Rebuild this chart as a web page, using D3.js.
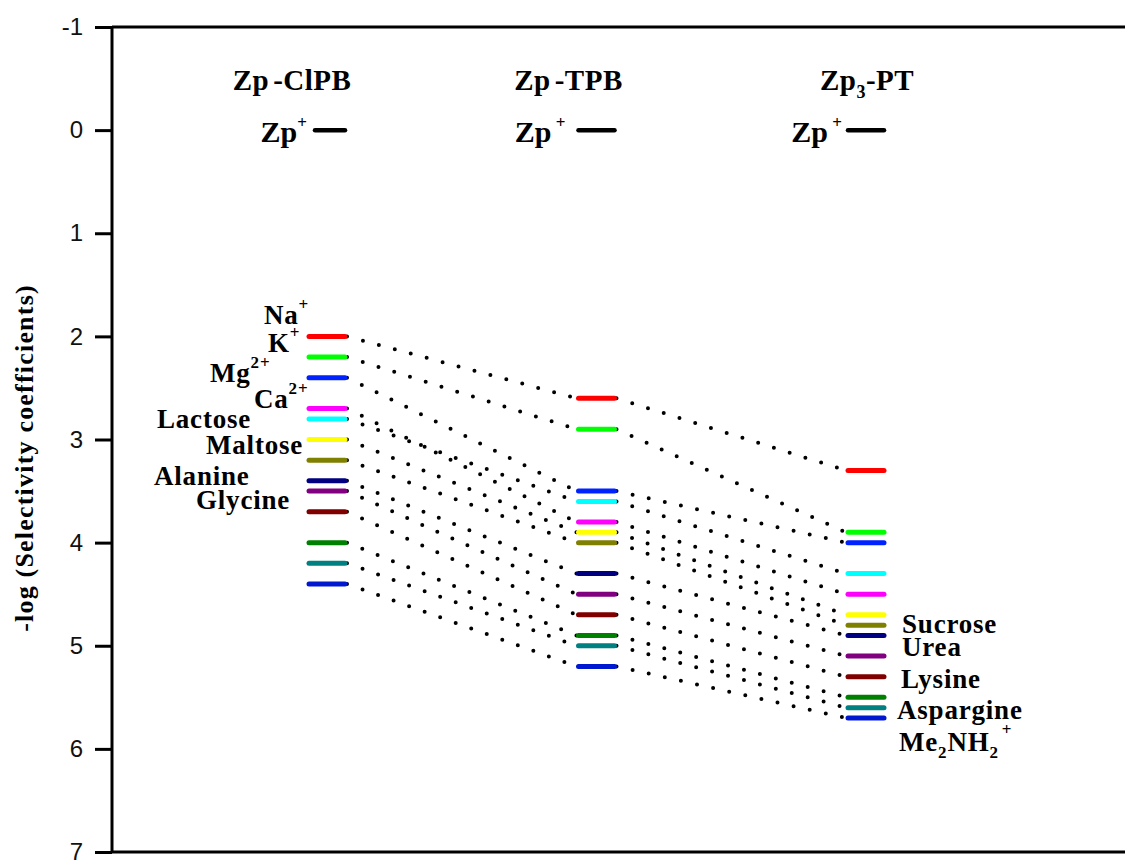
<!DOCTYPE html>
<html><head><meta charset="utf-8">
<script src="https://cdn.jsdelivr.net/npm/d3@7"></script>
<style>
html,body{margin:0;padding:0;background:#fff;}
svg{display:block;}
.serif{font-family:"Liberation Serif","Times New Roman",serif;font-weight:bold;fill:#000;}
</style></head>
<body>
<script>
// ---------------- data ----------------
const columns = ["Zp-ClPB", "Zp-TPB", "Zp3-PT"];
const species = ["Na+","K+","Mg2+","Ca2+","Lactose","Maltose","Sucrose","Alanine","Glycine","Urea","Lysine","Aspargine","Me2NH2+"];
const colors  = ["#ff0000","#00ff00","#0022ff","#ff00ff","#00ffff","#ffff00","#808000","#000080","#800080","#800000","#008000","#008080","#0018d0"];
const valuesClPB = [2.0, 2.2, 2.4, 2.7, 2.8, 3.0, 3.2, 3.4, 3.5, 3.7, 4.0, 4.2, 4.4];
const valuesTPB  = [2.6, 2.9, 3.5, 3.8, 3.6, 3.9, 4.0, 4.3, 4.5, 4.7, 4.9, 5.0, 5.2];
const valuesPT   = [3.3, 3.9, 4.0, 4.5, 4.3, 4.7, 4.8, 4.9, 5.1, 5.3, 5.5, 5.6, 5.7];
const zpValue = 0;
const yTicks = [-1, 0, 1, 2, 3, 4, 5, 6, 7];
const yLabel = "-log (Selectivity coefficients)";

// ---------------- layout ----------------
const W = 1125, H = 860;
const svg = d3.select("body").append("svg").attr("width", W).attr("height", H);
const y = d3.scaleLinear().domain([-1, 7]).range([27, 852]);
const x = d3.scalePoint().domain(columns).range([327, 866]);
const barHalf = 20;
const axisX = 112;

// axis
const axis = d3.axisLeft(y).tickValues(yTicks).tickSize(17).tickPadding(12).tickFormat(d => String(d));
const gA = svg.append("g").attr("transform", `translate(${axisX},0)`).call(axis);
gA.select(".domain").attr("stroke", "#000").attr("stroke-width", 3).attr("d", `M0,${y(-1)}V${y(7)}`);
gA.selectAll(".tick line").attr("stroke", "#000").attr("stroke-width", 3);
gA.selectAll(".tick text").attr("font-family", "Liberation Sans, Arial, sans-serif").attr("font-size", 24).attr("fill", "#111");
// frame top / bottom
svg.append("line").attr("x1", axisX).attr("x2", W + 5).attr("y1", y(-1)).attr("y2", y(-1)).attr("stroke", "#000").attr("stroke-width", 3);
svg.append("line").attr("x1", axisX).attr("x2", W + 5).attr("y1", y(7)).attr("y2", y(7)).attr("stroke", "#000").attr("stroke-width", 3);

// y label
svg.append("text").attr("class", "serif").attr("font-size", 26).attr("letter-spacing", 1.2)
  .attr("transform", `translate(33,${458}) rotate(-90)`).attr("text-anchor", "middle").text(yLabel);

// dotted connectors
const series = [valuesClPB, valuesTPB, valuesPT];
const gDots = svg.append("g");
species.forEach((s, i) => {
  for (let c = 0; c < 2; c++) {
    gDots.append("line")
      .attr("x1", x(columns[c]) + barHalf).attr("y1", y(series[c][i]))
      .attr("x2", x(columns[c + 1]) - barHalf).attr("y2", y(series[c + 1][i]))
      .attr("stroke", "#000").attr("stroke-width", 4)
      .attr("stroke-linecap", "round").attr("stroke-dasharray", "0 16.5");
  }
});

// bars
columns.forEach((col, c) => {
  svg.append("g").selectAll("line").data(series[c]).join("line")
    .attr("x1", x(col) - barHalf + 2).attr("x2", x(col) + barHalf - 2)
    .attr("y1", d => y(d)).attr("y2", d => y(d))
    .attr("stroke", (d, i) => colors[i]).attr("stroke-width", 5).attr("stroke-linecap", "round");
  // Zp+ reference bar
  svg.append("line")
    .attr("x1", x(col) - barHalf + (c === 0 ? 8 : 2)).attr("x2", x(col) + barHalf - 2)
    .attr("y1", y(zpValue)).attr("y2", y(zpValue))
    .attr("stroke", "#000").attr("stroke-width", 4.5).attr("stroke-linecap", "round");
});

// column titles
const titleOffsets = [-35, -28, 1];
columns.forEach((col, c) => {
  const t = svg.append("text").attr("class", "serif").attr("font-size", 29).attr("letter-spacing", 0.5)
    .attr("x", x(col) + titleOffsets[c]).attr("y", 90).attr("text-anchor", "middle");
  if (c === 2) {
    t.append("tspan").text("Zp");
    t.append("tspan").attr("font-size", 18).attr("dy", 8).text("3");
    t.append("tspan").attr("dy", -8).text("-PT");
  } else {
    const parts = col.split("-");
    t.append("tspan").text(parts[0]);
    t.append("tspan").attr("dx", 4).text("-" + parts[1]);
  }
});
// Zp+ labels
const zpEnds = [-20, -31, -24];
columns.forEach((col, c) => {
  const t = svg.append("text").attr("class", "serif").attr("font-size", 30)
    .attr("x", x(col) + zpEnds[c]).attr("y", 142).attr("text-anchor", "end");
  t.append("tspan").text("Zp");
  t.append("tspan").attr("font-size", 17).attr("dy", -14).text(c === 0 ? "+" : " +");
});

// species labels (annotation layout)
const labelPos = [
  {t:"Na", sup:"+", x:264, y:324},
  {t:"K", sup:"+", x:268, y:352},
  {t:"Mg", sup:"2+", x:210, y:382},
  {t:"Ca", sup:"2+", x:254, y:408},
  {t:"Lactose", x:157, y:428},
  {t:"Maltose", x:206, y:454},
  {t:"Alanine", x:154, y:485},
  {t:"Glycine", x:196, y:509},
  {t:"Sucrose", x:902, y:633},
  {t:"Urea", x:902, y:656},
  {t:"Lysine", x:901, y:688},
  {t:"Aspargine", x:897, y:719}
];
labelPos.forEach(l => {
  const t = svg.append("text").attr("class", "serif").attr("font-size", 27)
    .attr("letter-spacing", 0.8).attr("x", l.x).attr("y", l.y);
  t.append("tspan").text(l.t);
  if (l.sup) t.append("tspan").attr("font-size", 17).attr("dy", -14).text(l.sup);
});
// Me2NH2+
const me = svg.append("text").attr("class", "serif").attr("font-size", 27).attr("letter-spacing", 0.8).attr("x", 899).attr("y", 751);
me.append("tspan").text("Me");
me.append("tspan").attr("font-size", 17).attr("dy", 7).text("2");
me.append("tspan").attr("dy", -7).text("NH");
me.append("tspan").attr("font-size", 17).attr("dy", 7).text("2");
me.append("tspan").attr("font-size", 17).attr("dy", -23).attr("dx", 3).text("+");
</script>
</body></html>
